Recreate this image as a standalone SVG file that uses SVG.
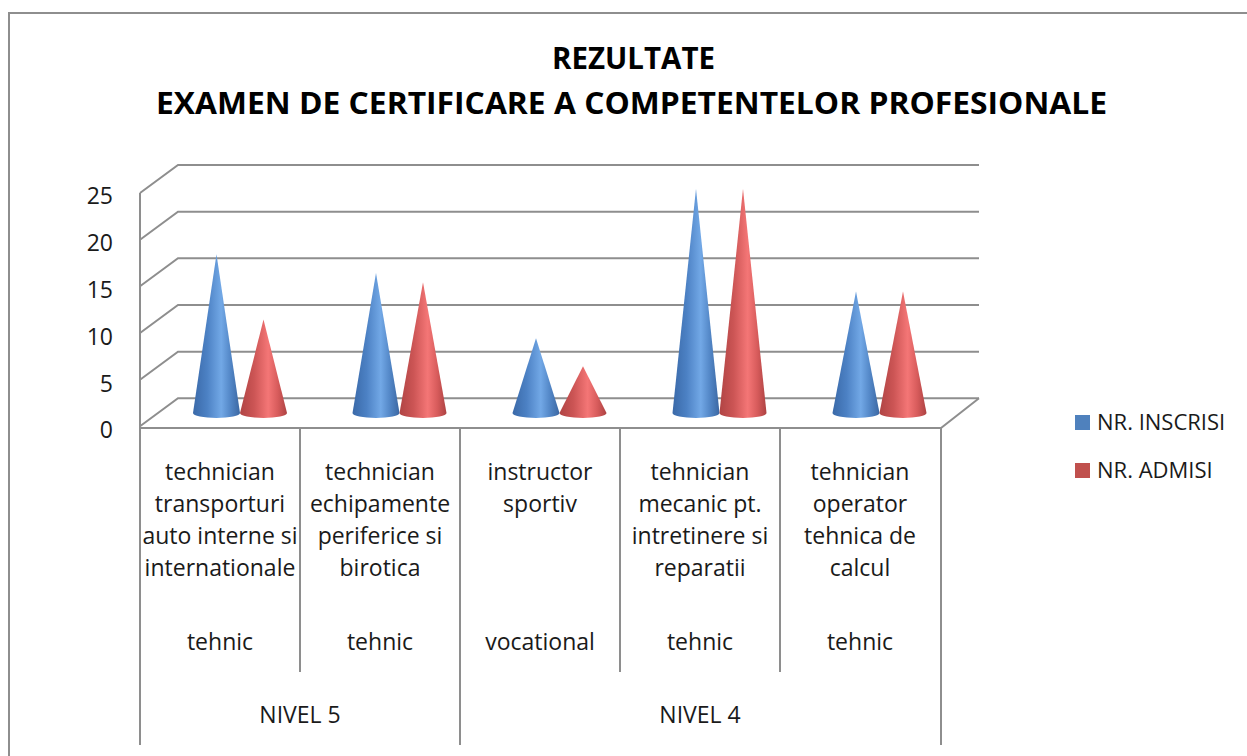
<svg xmlns="http://www.w3.org/2000/svg" width="1247" height="756" viewBox="0 0 1247 756">
<defs>
<linearGradient id="gb" x1="0" y1="0" x2="1" y2="0">
<stop offset="0" stop-color="#3a69a8"/>
<stop offset="0.3" stop-color="#4c81c4"/>
<stop offset="0.6" stop-color="#72a8e6"/>
<stop offset="0.8" stop-color="#5286c6"/>
<stop offset="1" stop-color="#3b67a2"/>
</linearGradient>
<linearGradient id="gr" x1="0" y1="0" x2="1" y2="0">
<stop offset="0" stop-color="#b04444"/>
<stop offset="0.3" stop-color="#cc5555"/>
<stop offset="0.6" stop-color="#f47676"/>
<stop offset="0.8" stop-color="#d85c5c"/>
<stop offset="1" stop-color="#ad4242"/>
</linearGradient>
<style>
.ln{stroke:#8e8e8e;stroke-width:2;fill:none}
.t{font-family:"Open Sans","Liberation Sans",sans-serif;font-size:23px;fill:#1a1a1a;text-anchor:middle}
.ax{font-family:"Open Sans","Liberation Sans",sans-serif;font-size:23px;fill:#1a1a1a;text-anchor:end}
.lg{font-family:"Open Sans","Liberation Sans",sans-serif;font-size:22px;fill:#1a1a1a}
.ti{font-family:"Open Sans","Liberation Sans",sans-serif;font-size:31px;font-weight:bold;fill:#000;text-anchor:middle}
.cb{fill:url(#gb)}
.cr{fill:url(#gr)}
</style>
</defs>
<rect width="1247" height="756" fill="#ffffff"/>
<path class="ln" d="M9,756 V13 H1247"/>
<g id="title">
<text class="ti" x="633.5" y="69" textLength="163" lengthAdjust="spacingAndGlyphs">REZULTATE</text>
<text class="ti" x="631.5" y="114" textLength="951" lengthAdjust="spacingAndGlyphs">EXAMEN DE  CERTIFICARE A COMPETENTELOR  PROFESIONALE</text>
</g>
<g id="connectors">
<g id="grid">
<path class="ln" d="M140,193 L178,165 H979 M140,239.7 L178,211.7 H979 M140,286.3 L178,258.3 H979 M140,333 L178,305 H979 M140,379.7 L178,351.7 H979 M140,426.3 L178,398.3 H979"/>
<path class="ln" d="M140,193 V745 M140,428 H941 L979,398.3 M941,428 V745 M460,428 V745 M300,428 V672 M620,428 V672 M780,428 V672"/>
</g>
</g>
<g id="yaxis">
<text class="ax" x="113" y="204">25</text>
<text class="ax" x="113" y="251">20</text>
<text class="ax" x="113" y="298">15</text>
<text class="ax" x="113" y="345">10</text>
<text class="ax" x="113" y="392">5</text>
<text class="ax" x="113" y="438">0</text>
</g>
<g id="cat1">
<path class="cb" d="M193,413 L216.5,254.2 L240,413 A23.5,5 0 0 1 193,413 Z"/>
<path class="cr" d="M240,413 L263.5,319.6 L287,413 A23.5,5 0 0 1 240,413 Z"/>
<text class="t" x="220" y="480">technician</text>
<text class="t" x="220" y="512">transporturi</text>
<text class="t" x="220" y="544">auto interne si</text>
<text class="t" x="220" y="576">internationale</text>
<text class="t" x="220" y="650">tehnic</text>
</g>
<g id="cat2">
<path class="cb" d="M352.5,413 L376,272.9 L399.5,413 A23.5,5 0 0 1 352.5,413 Z"/>
<path class="cr" d="M399.5,413 L423,282.2 L446.5,413 A23.5,5 0 0 1 399.5,413 Z"/>
<text class="t" x="380" y="480">technician</text>
<text class="t" x="380" y="512">echipamente</text>
<text class="t" x="380" y="544">periferice si</text>
<text class="t" x="380" y="576">birotica</text>
<text class="t" x="380" y="650">tehnic</text>
</g>
<g id="cat3">
<path class="cb" d="M512.5,413 L536,338.3 L559.5,413 A23.5,5 0 0 1 512.5,413 Z"/>
<path class="cr" d="M559.5,413 L583,366.3 L606.5,413 A23.5,5 0 0 1 559.5,413 Z"/>
<text class="t" x="540" y="480">instructor</text>
<text class="t" x="540" y="512">sportiv</text>
<text class="t" x="540" y="650">vocational</text>
</g>
<g id="cat4">
<path class="cb" d="M672.5,413 L696,188.8 L719.5,413 A23.5,5 0 0 1 672.5,413 Z"/>
<path class="cr" d="M719.5,413 L743,188.8 L766.5,413 A23.5,5 0 0 1 719.5,413 Z"/>
<text class="t" x="700" y="480">tehnician</text>
<text class="t" x="700" y="512">mecanic pt.</text>
<text class="t" x="700" y="544">intretinere si</text>
<text class="t" x="700" y="576">reparatii</text>
<text class="t" x="700" y="650">tehnic</text>
</g>
<g id="cat5">
<path class="cb" d="M832.5,413 L856,291.6 L879.5,413 A23.5,5 0 0 1 832.5,413 Z"/>
<path class="cr" d="M879.5,413 L903,291.6 L926.5,413 A23.5,5 0 0 1 879.5,413 Z"/>
<text class="t" x="860" y="480">tehnician</text>
<text class="t" x="860" y="512">operator</text>
<text class="t" x="860" y="544">tehnica de</text>
<text class="t" x="860" y="576">calcul</text>
<text class="t" x="860" y="650">tehnic</text>
</g>
<g id="levels">
<text class="t" x="300" y="723">NIVEL 5</text>
<text class="t" x="700" y="723">NIVEL 4</text>
</g>
<g id="legend">
<rect x="1075" y="415" width="15" height="15" fill="#4f81bd"/>
<text class="lg" x="1097" y="430">NR. INSCRISI</text>
<rect x="1075" y="463" width="15" height="15" fill="#c0504d"/>
<text class="lg" x="1097" y="478">NR. ADMISI</text>
</g>
</svg>
